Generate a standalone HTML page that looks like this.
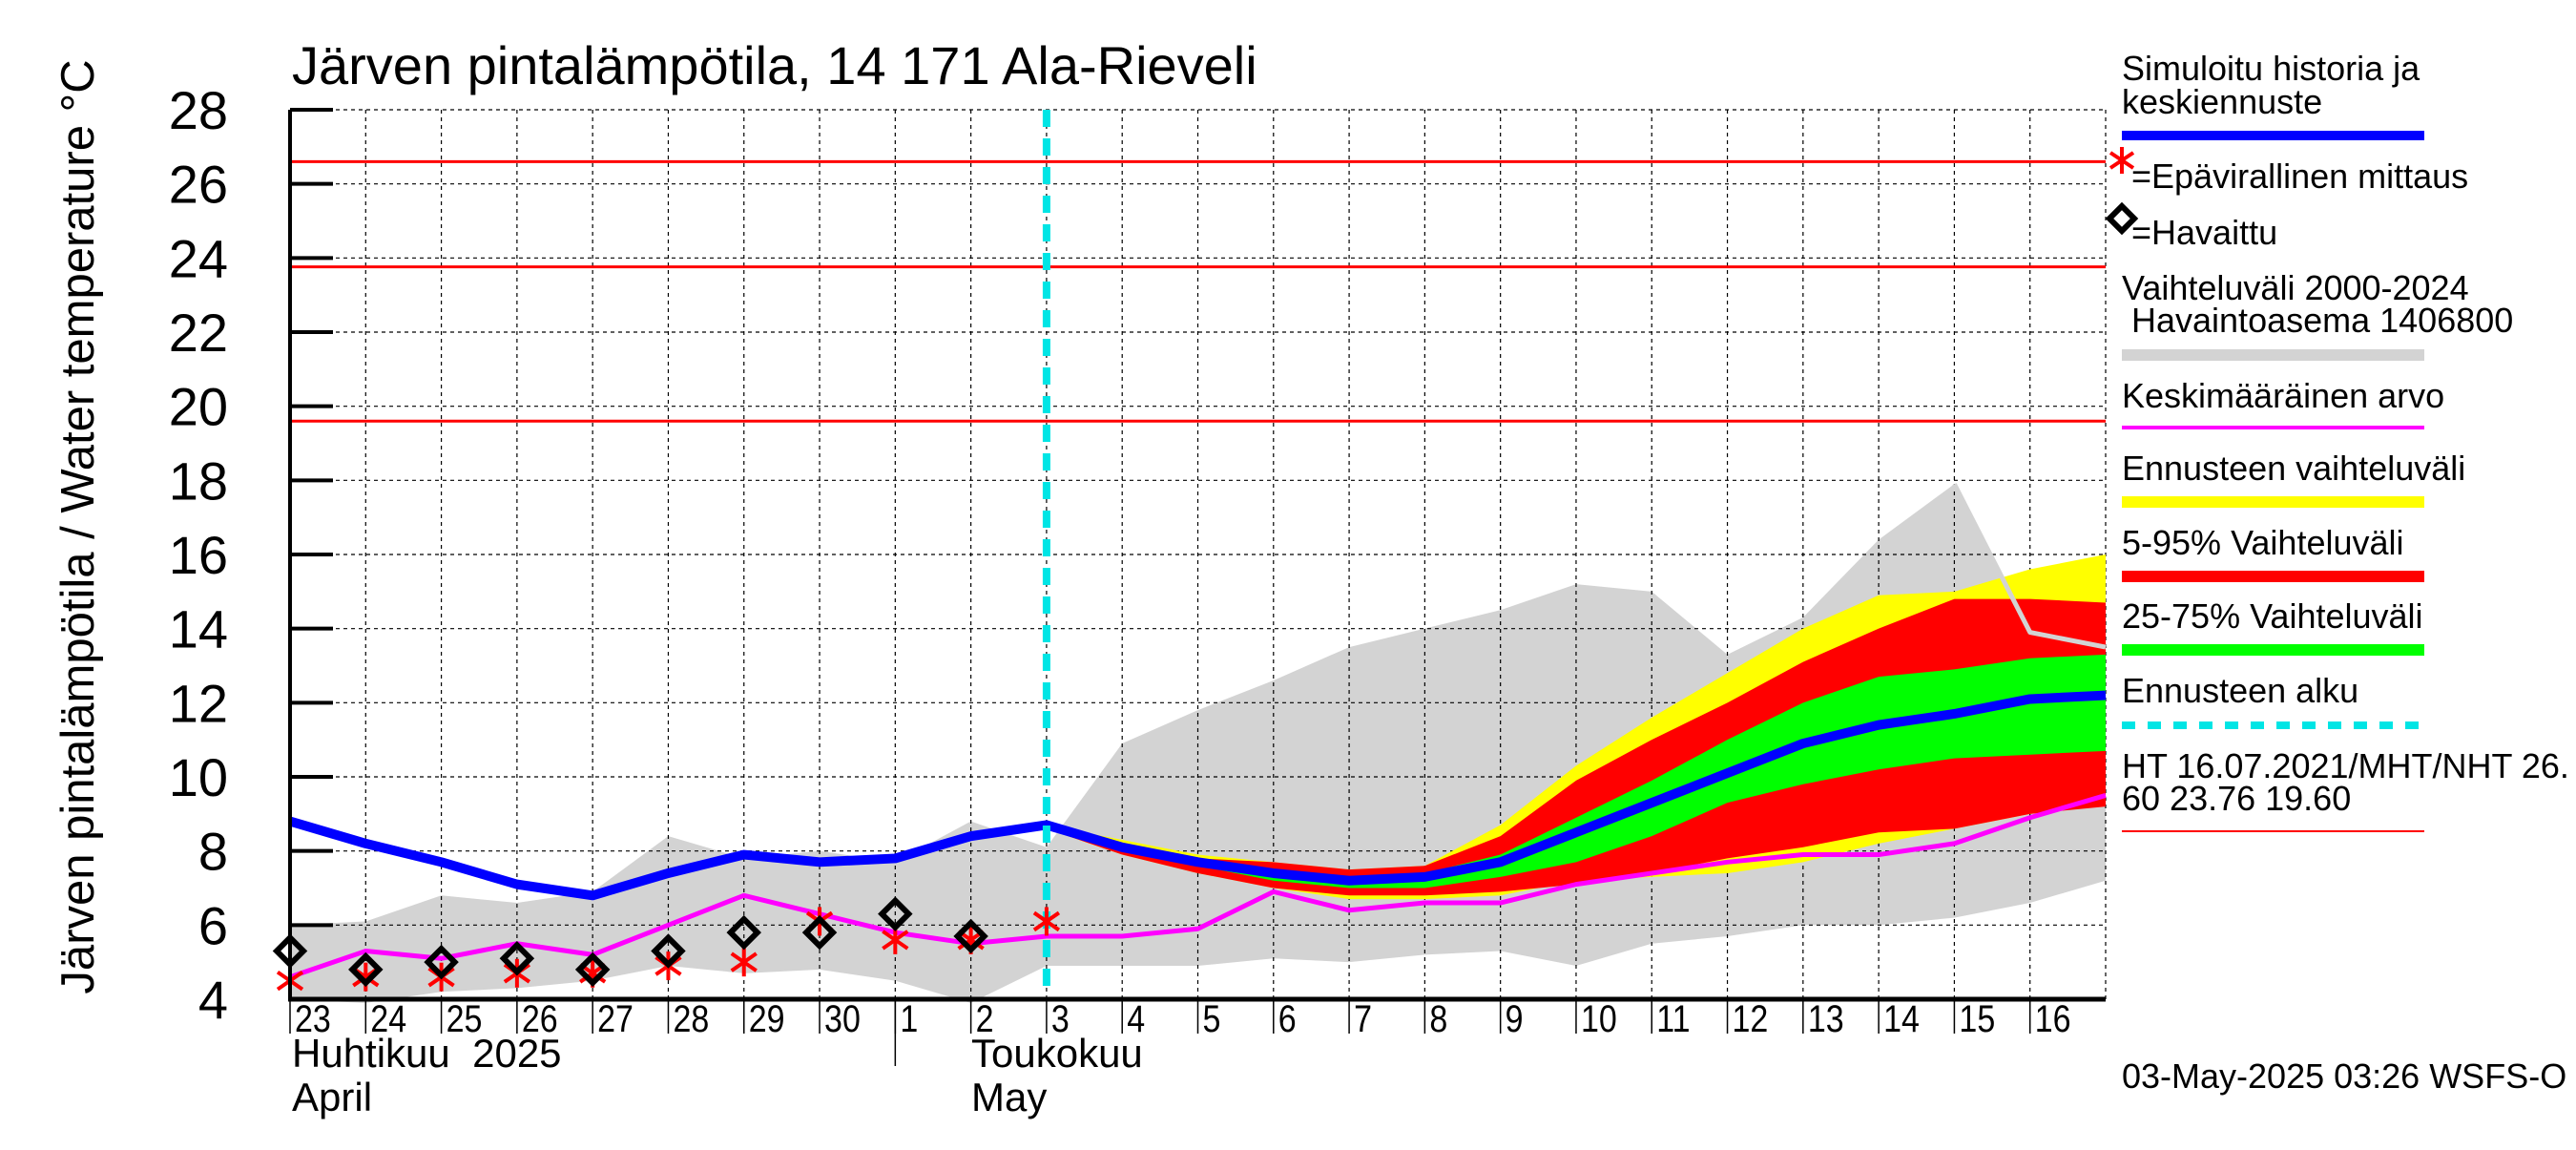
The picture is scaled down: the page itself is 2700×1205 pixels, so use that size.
<!DOCTYPE html>
<html><head><meta charset="utf-8"><style>
body{margin:0;background:#fff}
svg text{font-family:"Liberation Sans Narrow","Liberation Sans",sans-serif}
</style></head><body>
<svg width="2700" height="1200" viewBox="0 0 2700 1200" xmlns="http://www.w3.org/2000/svg">
<g id="root"></g>
</svg>
<script>
const dayLabels=["23","24","25","26","27","28","29","30","1","2","3","4","5","6","7","8","9","10","11","12","13","14","15","16"];
const yTicks=[4,6,8,10,12,14,16,18,20,22,24,26,28];
const refLines=[26.60,23.76,19.60];
const simMean=[8.8,8.2,7.7,7.1,6.8,7.4,7.9,7.7,7.8,8.4,8.7,8.1,7.7,7.4,7.2,7.3,7.7,8.5,9.3,10.1,10.9,11.4,11.7,12.1,12.2];
const avgLine=[4.6,5.3,5.1,5.5,5.2,6.0,6.8,6.3,5.8,5.5,5.7,5.7,5.9,6.9,6.4,6.6,6.6,7.1,7.4,7.7,7.9,7.9,8.2,8.9,9.5];
const histUpper=[6.0,6.1,6.8,6.6,6.9,8.4,7.8,8.0,7.7,8.8,8.1,10.9,11.8,12.6,13.5,14.0,14.5,15.2,15.0,13.3,14.3,16.4,17.9,13.9,13.5];
const histLower=[4.0,3.9,4.2,4.3,4.5,4.9,4.7,4.8,4.5,3.9,4.9,4.9,4.9,5.1,5.0,5.2,5.3,4.9,5.5,5.7,6.0,6.0,6.2,6.6,7.2];
const fcStart=10;
const yelUp=[8.7,8.3,7.9,7.7,7.5,7.6,8.7,10.3,11.6,12.8,14.0,14.9,15.0,15.6,16.0];
const redUp=[8.7,8.2,7.8,7.7,7.5,7.6,8.4,9.9,11.0,12.0,13.1,14.0,14.8,14.8,14.7];
const grnUp=[8.7,8.2,7.8,7.5,7.3,7.4,7.9,8.9,9.9,11.0,12.0,12.7,12.9,13.2,13.3];
const grnLo=[8.6,8.0,7.6,7.2,7.0,7.0,7.3,7.7,8.4,9.3,9.8,10.2,10.5,10.6,10.7];
const redLo=[8.6,7.9,7.4,7.0,6.8,6.8,6.9,7.1,7.4,7.8,8.1,8.5,8.6,9.0,9.2];
const yelLo=[8.6,7.9,7.4,7.0,6.7,6.7,6.8,7.2,7.3,7.4,7.7,8.2,8.6,9.0,9.3];
const obsIdx=[0,1,2,3,4,5,6,7,8,9];
const obsVal=[5.3,4.8,5.0,5.1,4.8,5.3,5.8,5.8,6.3,5.7];
const unoffIdx=[0,1,2,3,4,5,6,7,8,9,10];
const unoffVal=[4.5,4.6,4.6,4.7,4.7,4.9,5.0,6.1,5.6,5.6,6.1];

const L=304,R=2207,T=115,B=1047;
const X=i=>L+i*(R-L)/24;
const Y=v=>B-(v-4)*(B-T)/24;
const NS='http://www.w3.org/2000/svg';
const root=document.getElementById('root');
function el(tag,attrs,parent){const e=document.createElementNS(NS,tag);for(const k in attrs)e.setAttribute(k,attrs[k]);(parent||root).appendChild(e);return e;}
function txt(s,attrs){const e=el('text',attrs);e.textContent=s;return e;}
function band(up,lo,off,fill,name){
  let p=up.map((v,i)=>X(i+off)+','+Y(v));
  for(let i=lo.length-1;i>=0;i--)p.push(X(i+off)+','+Y(lo[i]));
  const e=el('polygon',{points:p.join(' '),fill:fill});
  
  
}
function line(vals,off,stroke,w,name){
  const e=el('polyline',{points:vals.map((v,i)=>X(i+off)+','+Y(v)).join(' '),fill:'none',stroke:stroke,'stroke-width':w,'stroke-linejoin':'round'});
  
  
}
band(histUpper,histLower,0,'#d3d3d3','history-range-band');
for(let i=1;i<24;i++){const g=el('line',{x1:X(i),x2:X(i),y1:T,y2:B,stroke:'#000','stroke-width':1.2,'stroke-dasharray':'4,4'});}
el('line',{x1:R,x2:R,y1:T,y2:B,stroke:'#000','stroke-width':1.2,'stroke-dasharray':'4,4'});
yTicks.forEach(v=>{if(v>4){const g=el('line',{x1:L,x2:R,y1:Y(v),y2:Y(v),stroke:'#000','stroke-width':1.2,'stroke-dasharray':'4,4'});}});
band(yelUp,yelLo,fcStart,'#ffff00','forecast-range-band');
band(redUp,redLo,fcStart,'#ff0000','band-5-95');
band(grnUp,grnLo,fcStart,'#00ff00','band-25-75');
line(histUpper.slice(22),22,'#d3d3d3',5,'history-upper-line');
refLines.forEach(v=>{const e=el('line',{x1:L,x2:R,y1:Y(v),y2:Y(v),stroke:'#ff0000','stroke-width':3});});
line(avgLine,0,'#ff00ff',5,'average-line');
line(simMean,0,'#0000ff',10,'simulated-mean-line');
{const e=el('line',{x1:X(fcStart),x2:X(fcStart),y1:T,y2:B,stroke:'#00e5e5','stroke-width':8,'stroke-dasharray':'18,12'});}
unoffIdx.forEach((d,k)=>{const x=X(d),y=Y(unoffVal[k]);const g=el('g',{stroke:'#ff0000','stroke-width':4});
 el('line',{x1:x-13,x2:x+13,y1:y-9,y2:y+9},g);el('line',{x1:x-13,x2:x+13,y1:y+9,y2:y-9},g);el('line',{x1:x,x2:x,y1:y-15,y2:y+15},g);});
obsIdx.forEach((d,k)=>{const x=X(d),y=Y(obsVal[k]);const e=el('polygon',{points:`${x},${y-14} ${x+14},${y} ${x},${y+14} ${x-14},${y}`,fill:'none',stroke:'#000','stroke-width':6});});
el('line',{x1:L,x2:L,y1:T,y2:B+2,stroke:'#000','stroke-width':4});
el('line',{x1:L-2,x2:R,y1:B,y2:B,stroke:'#000','stroke-width':5});
yTicks.forEach(v=>{el('line',{x1:L,x2:L+45,y1:Y(v),y2:Y(v),stroke:'#000','stroke-width':4});
 const t=txt(String(v),{x:239,y:Y(v)+20,'text-anchor':'end','font-size':56});});
dayLabels.forEach((s,i)=>{el('line',{x1:X(i),x2:X(i),y1:B,y2:B+36,stroke:'#000','stroke-width':1.5});
 const t=txt(s,{x:X(i)+5,y:1081,'font-size':40,transform:`translate(${X(i)+5},0) scale(0.85,1) translate(${-(X(i)+5)},0)`});});
el('line',{x1:X(8),x2:X(8),y1:B,y2:1117,stroke:'#000','stroke-width':1.5});
</script>
<svg style="position:absolute;left:0;top:0" width="2700" height="1200" xmlns="http://www.w3.org/2000/svg">
<g font-family="Liberation Sans Narrow, Liberation Sans, sans-serif">
<text x="306" y="88" font-size="56">Järven pintalämpötila, 14 171 Ala-Rieveli</text>
<text transform="translate(98,552) rotate(-90)" text-anchor="middle" font-size="49">Järven pintalämpötila / Water temperature °C</text>
<text x="306" y="1118" font-size="42">Huhtikuu&#160;&#160;2025</text>
<text x="306" y="1164" font-size="42">April</text>
<text x="1018" y="1118" font-size="42">Toukokuu</text>
<text x="1018" y="1164" font-size="42">May</text>
<g font-size="36">
<text x="2224" y="84">Simuloitu historia ja</text>
<text x="2224" y="119">keskiennuste</text>
<rect x="2224" y="137" width="317" height="10" fill="#0000ff"/>
<g stroke="#ff0000" stroke-width="4"><line x1="2212" y1="160" x2="2236" y2="176"/><line x1="2212" y1="176" x2="2236" y2="160"/><line x1="2224" y1="154" x2="2224" y2="182"/></g>
<text x="2234" y="197">=Epävirallinen mittaus</text>
<polygon points="2224,216 2237,229 2224,242 2211,229" fill="none" stroke="#000" stroke-width="6"/>
<text x="2234" y="256">=Havaittu</text>
<text x="2224" y="314">Vaihteluväli 2000-2024</text>
<text x="2234" y="348">Havaintoasema 1406800</text>
<rect x="2224" y="366" width="317" height="12" fill="#d3d3d3"/>
<text x="2224" y="427">Keskimääräinen arvo</text>
<rect x="2224" y="446" width="317" height="4" fill="#ff00ff"/>
<text x="2224" y="503">Ennusteen vaihteluväli</text>
<rect x="2224" y="520" width="317" height="12" fill="#ffff00"/>
<text x="2224" y="581">5-95% Vaihteluväli</text>
<rect x="2224" y="598" width="317" height="12" fill="#ff0000"/>
<text x="2224" y="658">25-75% Vaihteluväli</text>
<rect x="2224" y="675" width="317" height="12" fill="#00ff00"/>
<text x="2224" y="736">Ennusteen alku</text>
<line x1="2224" y1="760" x2="2541" y2="760" stroke="#00e5e5" stroke-width="8" stroke-dasharray="14,13"/>
<text x="2224" y="815">HT 16.07.2021/MHT/NHT 26.</text>
<text x="2224" y="849">60 23.76 19.60</text>
<rect x="2224" y="870" width="317" height="2" fill="#ff0000"/>
</g>
<text x="2224" y="1140" font-size="36">03-May-2025 03:26 WSFS-O</text>
</g>
</svg>
</body></html>
